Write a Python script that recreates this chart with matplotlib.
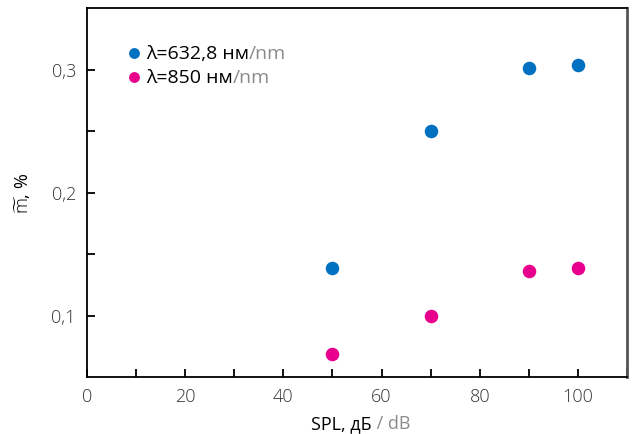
import matplotlib
matplotlib.use("Agg")
import matplotlib.pyplot as plt
from matplotlib.ticker import MultipleLocator, FixedLocator

plt.rcParams['font.family'] = ['Open Sans', 'DejaVu Sans']
plt.rcParams['font.weight'] = 'light'
plt.rcParams['mathtext.fontset'] = 'custom'
plt.rcParams['mathtext.rm'] = 'Open Sans'
plt.rcParams['mathtext.it'] = 'Open Sans'

spl = [50, 70, 90, 100]
m_632 = [0.139, 0.250, 0.301, 0.304]
m_850 = [0.069, 0.100, 0.136, 0.139]
labels = ["λ=632,8 нм", "λ=850 нм"]
labels_en = ["/nm", "/nm"]
xticks = [0, 20, 40, 60, 80, 100]
yticks = [0.1, 0.2, 0.3]
ytick_labels = ["0,1", "0,2", "0,3"]

blue = "#0070C0"
pink = "#E8008C"
gray = "#8c8c8c"

fig = plt.figure(figsize=(6.33, 4.35), dpi=100)
ax = fig.add_axes([87/633, 57/435, 540/633, 369/435])

ax.scatter(spl, m_632, s=95, color=blue, label=labels[0], zorder=3, linewidths=0)
ax.scatter(spl, m_850, s=95, color=pink, label=labels[1], zorder=3, linewidths=0)

ax.set_xlim(0, 110)
ax.set_ylim(0.05, 0.35)
ax.set_xticks(xticks)
ax.xaxis.set_minor_locator(MultipleLocator(10))
ax.set_yticks(yticks)
ax.set_yticklabels(ytick_labels)
ax.yaxis.set_minor_locator(FixedLocator([0.15, 0.25]))

ax.tick_params(axis='both', which='both', direction='in', length=6, width=1.3,
               labelsize=13, colors='black', labelcolor='#333333')
ax.tick_params(axis='x', which='major', pad=7)
ax.tick_params(axis='y', which='major', pad=8)

for side in ['left', 'bottom', 'top']:
    ax.spines[side].set_linewidth(1.3)
    ax.spines[side].set_color('black')
ax.spines['right'].set_linewidth(2)
ax.spines['right'].set_color('#555555')

ax.set_ylabel(r"$\widetilde{\mathrm{m}}$, %", fontsize=13, labelpad=13,
              fontweight='normal')

# x label with bilingual coloring
t1 = ax.text(0.528, -0.10, "SPL, дБ", transform=ax.transAxes, ha='right', va='top',
             fontsize=13, color='black', fontweight='normal')
ax.annotate(" / dB", xy=(1, 0), xycoords=t1, ha='left', va='bottom',
            fontsize=13, color=gray, zorder=10, fontweight='normal')

leg = ax.legend(loc='upper left', bbox_to_anchor=(0.048, 0.923), frameon=False,
                handletextpad=-0.1, labelspacing=0.32, markerscale=0.8,
                borderaxespad=0, handlelength=1.4,
                prop={'family': ['Open Sans', 'DejaVu Sans'], 'size': 14, 'weight': 'normal'})
fig.canvas.draw()
for txt, en in zip(leg.get_texts(), labels_en):
    ax.annotate(en, xy=(1, 0), xycoords=txt, ha='left', va='bottom',
                fontsize=14, color=gray, zorder=10, fontweight='normal')

fig.savefig("out.png", dpi=100)
